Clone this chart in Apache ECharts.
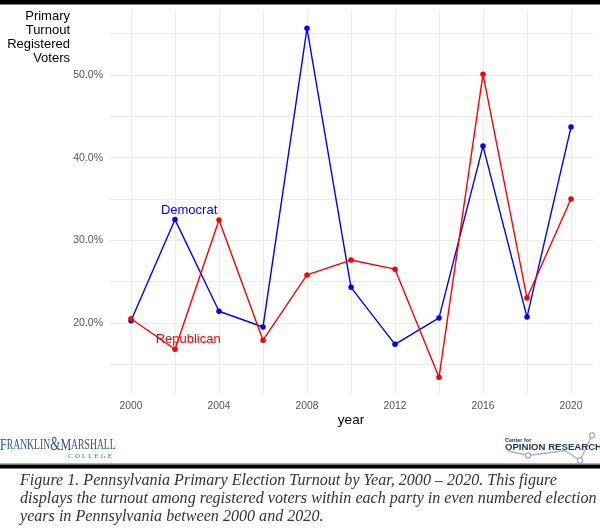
<!DOCTYPE html>
<html>
<head>
<meta charset="utf-8">
<script src="https://cdn.jsdelivr.net/npm/echarts@6/dist/echarts.min.js"></script>
<style>
html,body{margin:0;padding:0;background:#fff;}
#chart{width:600px;height:531px;}
</style>
</head>
<body>
<div id="chart"></div>
<script>
// ---- data ----
const years = [2000, 2002, 2004, 2006, 2008, 2010, 2012, 2014, 2016, 2018, 2020];
const democrat = [20.25, 32.5, 21.4, 19.5, 55.65, 24.3, 17.4, 20.6, 41.4, 20.7, 43.7];
const republican = [20.5, 16.8, 32.45, 17.9, 25.8, 27.6, 26.5, 13.4, 50.1, 23.0, 35.0];
const xTickLabels = [2000, 2004, 2008, 2012, 2016, 2020];
const yTickLabels = [20, 30, 40, 50];
const seriesNames = ['Democrat', 'Republican'];
const labelCoords = [[2002.64, 33.66], [2002.6, 18.0]];
const yTitle = ['Primary', 'Turnout', 'Registered', 'Voters'];
const captionLines = [
  'Figure 1. Pennsylvania Primary Election Turnout by Year, 2000 \u2013 2020. This figure',
  'displays the turnout among registered voters within each party in even numbered election',
  'years in Pennsylvania between 2000 and 2020.'
];

const chart = echarts.init(document.getElementById('chart'), null, {renderer: 'canvas'});
const FONT = '"Liberation Sans", Arial, sans-serif';
const SERIF = '"Liberation Serif", "Times New Roman", serif';
const colors = ['#0000ff', '#ff0000'];
const values = [democrat, republican];

const series = seriesNames.map((name, i) => ({
  name: name,
  type: 'line',
  data: years.map((y, k) => [y, values[i][k]]),
  symbol: 'circle',
  symbolSize: 5.5,
  lineStyle: {color: colors[i], width: 1.4},
  itemStyle: {color: colors[i]},
  emphasis: {disabled: true},
  animation: false,
  markPoint: {
    symbol: 'rect',
    symbolSize: [1, 1],
    itemStyle: {color: 'transparent'},
    animation: false,
    data: [{
      coord: labelCoords[i],
      label: {show: true, position: 'inside', formatter: name, color: colors[i], fontSize: 13, fontFamily: FONT}
    }]
  }
}));

const graphics = [
  {type: 'rect', shape: {x: 0, y: 0, width: 600, height: 4.5}, style: {fill: '#000'}},
  {type: 'rect', shape: {x: 0, y: 464.5, width: 600, height: 4}, style: {fill: '#000'}},
  {type: 'rect', shape: {x: 0, y: 463.5, width: 600, height: 1}, style: {fill: '#666'}}
];
yTitle.forEach((t, i) => {
  graphics.push({type: 'text', x: 70, y: 16 + i * 14.3,
    style: {text: t, fill: '#000', font: '13px ' + FONT, align: 'right', verticalAlign: 'middle'}});
});
// axis title x
graphics.push({type: 'text', x: 351, y: 420,
  style: {text: 'year', fill: '#000', font: '13.5px ' + FONT, align: 'center', verticalAlign: 'middle'}});
// Franklin & Marshall logo
graphics.push({type: 'text', x: 0, y: 454.5, scaleX: 0.69,
  style: {
    text: '{b|F}{s|RANKLIN}{a|&}{b|M}{s|ARSHALL}',
    fill: '#2b5584', verticalAlign: 'bottom', align: 'left',
    rich: {
      b: {fontSize: 17.5, fontFamily: SERIF, fill: '#2b5584'},
      a: {fontSize: 19, fontFamily: SERIF, fill: '#2b5584'},
      s: {fontSize: 14, fontFamily: SERIF, fill: '#2b5584'}
    }
  }});
graphics.push({type: 'text', x: 68, y: 456.5, scaleX: 1.04,
  style: {text: 'C O L L E G E', fill: '#4f74a0', font: '7px ' + SERIF, align: 'left', verticalAlign: 'middle'}});
// Opinion research logo decoration
graphics.push({type: 'polyline', shape: {points: [[508, 451], [528, 455.5], [565, 450.5], [580, 460.5], [592, 435.5]]},
  style: {stroke: '#b0b0b0', lineWidth: 1.3, fill: null}});
[[528, 455.5], [580, 460.5], [592, 435.5]].forEach(p => {
  graphics.push({type: 'circle', shape: {cx: p[0], cy: p[1], r: 2.6}, style: {fill: '#fff', stroke: '#a8a8a8', lineWidth: 1.2}});
});
graphics.push({type: 'text', x: 505, y: 440,
  style: {text: 'Center for', fill: '#1f3a60', font: 'bold 5.5px ' + FONT, align: 'left', verticalAlign: 'middle'}});
graphics.push({type: 'text', x: 505, y: 447.5,
  style: {text: 'OPINION RESEARCH', fill: '#1f3a60', font: 'bold 9.6px ' + FONT, align: 'left', verticalAlign: 'middle'}});
// caption
captionLines.forEach((t, i) => {
  graphics.push({type: 'text', x: 20, y: 481 + i * 18,
    style: {text: t, fill: '#333', font: 'italic 16.1px ' + SERIF, align: 'left', verticalAlign: 'middle'}});
});

const option = {
  animation: false,
  backgroundColor: '#fff',
  grid: {left: 109, right: 7, top: 10.6, bottom: 136.3, containLabel: false},
  xAxis: {
    type: 'value', min: 1999, max: 2021, minInterval: 2, maxInterval: 2,
    axisLine: {show: false}, axisTick: {show: false},
    axisLabel: {
      color: '#555', fontSize: 10.3, fontFamily: FONT, margin: 6,
      showMinLabel: false, showMaxLabel: false,
      formatter: v => xTickLabels.indexOf(Math.round(v)) >= 0 && Math.abs(v - Math.round(v)) < 1e-6 ? String(Math.round(v)) : ''
    },
    splitLine: {show: true, showMinLine: false, showMaxLine: false, lineStyle: {color: '#ebebeb', width: 1}}
  },
  yAxis: {
    type: 'value', min: 11.3, max: 57.8, minInterval: 5, maxInterval: 5, splitNumber: 9,
    axisLine: {show: false}, axisTick: {show: false},
    axisLabel: {
      color: '#555', fontSize: 10.5, fontFamily: FONT, margin: 6,
      showMinLabel: false, showMaxLabel: false,
      formatter: v => {
        const r = Math.round(v);
        return (Math.abs(v - r) < 1e-6 && yTickLabels.indexOf(r) >= 0) ? r.toFixed(1) + '%' : '';
      }
    },
    splitLine: {show: true, showMinLine: false, showMaxLine: false, lineStyle: {color: '#ebebeb', width: 1}}
  },
  series: series,
  graphic: graphics
};
chart.setOption(option);
</script>
</body>
</html>
